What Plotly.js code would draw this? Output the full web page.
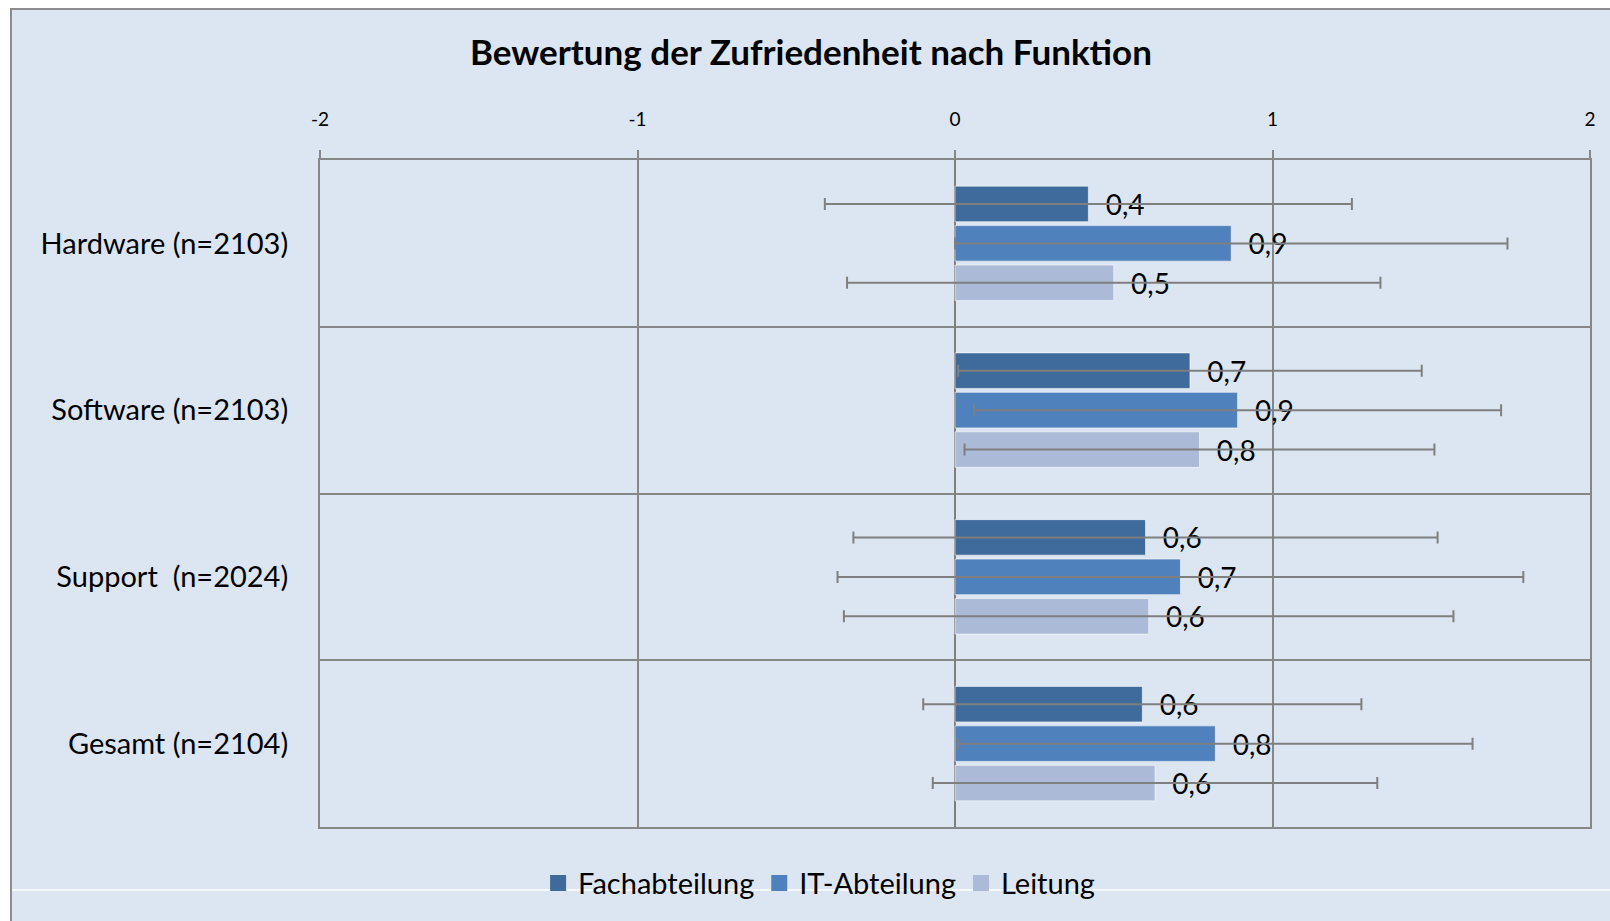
<!DOCTYPE html>
<html>
<head>
<meta charset="utf-8">
<script src="https://cdn.plot.ly/plotly-3.0.1.min.js"></script>
<style>
html, body { margin:0; padding:0; background:#ffffff; overflow:hidden; }
#chart { position:absolute; left:10px; top:8px; width:1598px; height:911px;
  border-left:2px solid #8c8c8c; border-top:2px solid #8c8c8c; }
</style>
</head>
<body>
<div id="chart"></div>
<script>
const categories = ['Hardware (n=2103)', 'Software (n=2103)', 'Support  (n=2024)', 'Gesamt (n=2104)'];
const seriesNames = ['Fachabteilung', 'IT-Abteilung', 'Leitung'];
const fachValues = [0.42, 0.74, 0.60, 0.59];
const itValues = [0.87, 0.89, 0.71, 0.82];
const leitungValues = [0.50, 0.77, 0.61, 0.63];
const fachErrors = [0.83, 0.73, 0.92, 0.69];
const itErrors = [0.87, 0.83, 1.08, 0.81];
const leitungErrors = [0.84, 0.74, 0.96, 0.70];
const xTicks = [-2, -1, 0, 1, 2];

const colors = ['#3f6a9c', '#4f81bd', '#aabad7'];
const values = [fachValues, itValues, leitungValues];
const errors = [fachErrors, itErrors, leitungErrors];
const FONT = 'Lato, "Open Sans", sans-serif';

const barTraces = seriesNames.map((name, i) => ({
  type: 'bar',
  orientation: 'h',
  name: name,
  showlegend: false,
  x: values[i],
  y: categories,
  marker: { color: colors[i], line: { color: 'rgba(255,255,255,0.55)', width: 1 } },
  texttemplate: '\u00a0\u00a0%{x:.1f}',
  textposition: 'outside',
  constraintext: 'none',
  cliponaxis: false,
  textfont: { family: FONT, size: 28, color: '#000000' },
  error_x: { type: 'data', array: errors[i], visible: true, color: '#7f7f7f', thickness: 2, width: 6 },
  hoverinfo: 'x+y+name'
}));

// legend-only entries with larger square keys
const legendTraces = seriesNames.map((name, i) => ({
  type: 'scatter',
  mode: 'markers',
  name: name,
  x: [null],
  y: [null],
  marker: { symbol: 'square', size: 19, color: colors[i] },
  hoverinfo: 'skip'
}));

const layout = {
  width: 1598,
  height: 911,
  paper_bgcolor: '#dce6f2',
  plot_bgcolor: '#dce6f2',
  separators: ',.',
  margin: { l: 308, r: 20, t: 150, b: 94, pad: 0 },
  barmode: 'group',
  bargap: 0.29,
  bargroupgap: 0.1,
  font: { family: FONT, color: '#000000' },
  title: {
    text: '<b>Bewertung der Zufriedenheit nach Funktion</b>',
    font: { family: FONT, size: 35, color: '#000000' },
    x: 0.5, xref: 'container', xanchor: 'center',
    y: 1 - 43 / 911, yref: 'container', yanchor: 'middle'
  },
  xaxis: {
    side: 'top',
    range: [-2, 2],
    tickvals: xTicks,
    ticktext: xTicks.map(String),
    showgrid: true,
    gridcolor: '#878787',
    gridwidth: 2,
    zeroline: true,
    zerolinecolor: '#7f7f7f',
    zerolinewidth: 2.5,
    showline: true,
    mirror: true,
    linecolor: '#878787',
    linewidth: 2,
    ticks: 'outside',
    ticklen: 8,
    tickwidth: 2,
    tickcolor: '#878787',
    ticklabelstandoff: 16,
    tickfont: { family: FONT, size: 19, color: '#000000' },
    fixedrange: true
  },
  yaxis: {
    type: 'category',
    autorange: 'reversed',
    tickson: 'boundaries',
    showgrid: true,
    gridcolor: '#878787',
    gridwidth: 2,
    showline: true,
    mirror: true,
    linecolor: '#878787',
    linewidth: 2,
    ticks: '',
    ticklabelstandoff: 24,
    tickfont: { family: FONT, size: 29, color: '#000000' },
    fixedrange: true
  },
  legend: {
    orientation: 'h',
    x: 0.393, xanchor: 'center',
    y: -0.084, yanchor: 'middle',
    font: { family: FONT, size: 29, color: '#000000' },
    bgcolor: 'rgba(0,0,0,0)',
    traceorder: 'normal'
  },
  shapes: [{
    type: 'line', xref: 'paper', yref: 'paper',
    x0: -0.25, x1: 1.1, y0: -0.0945, y1: -0.0945,
    line: { color: '#ffffff', width: 1.5 }, layer: 'below'
  }],
  showlegend: true
};

Plotly.newPlot('chart', barTraces.concat(legendTraces), layout, { displayModeBar: false, staticPlot: true });
</script>
</body>
</html>
